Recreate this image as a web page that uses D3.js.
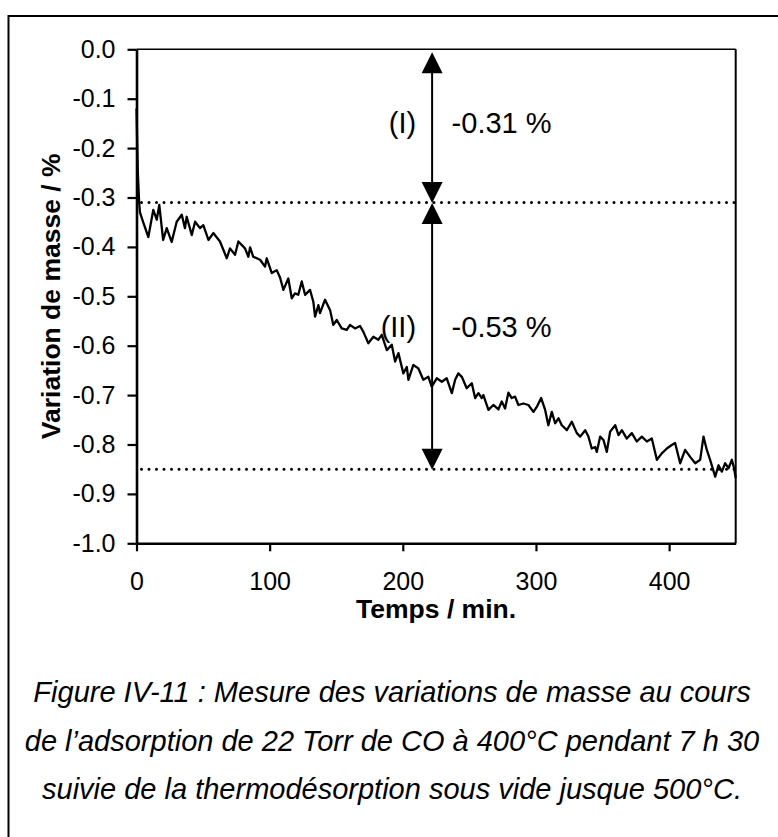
<!DOCTYPE html>
<html>
<head>
<meta charset="utf-8">
<script src="https://cdn.jsdelivr.net/npm/d3@7/dist/d3.min.js"></script>
<style>
  html, body { margin: 0; padding: 0; background: #fff; }
  svg { display: block; }
  text { font-family: "Liberation Sans", Arial, sans-serif; fill: #000; }
</style>
</head>
<body>
<svg id="chart" width="778" height="837"></svg>
<script>
// ---- data ----
const timeMin = [0,1,2,2.6,5,8.9,12.6,15.2,17.1,20,22.7,26.4,30.2,34,36.4,37.7,41.5,44,47.7,50.2,54,57.7,62.7,67.8,70.2,74,76.5,81.5,84,85.3,87.7,92.8,96.5,97.8,101.6,105.3,
  107.8,110.3,114,116.6,119,121.5,124.1,126.6,130.3,132.8,134.1,136.6,137.8,141.6,145.4,147.8,150.4,154.1,157.9,160.4,164.1,167.9,170.4,174.1,177.9,181.6,184.2,188,191.7,194.2,196.7,200.4,203,204.2,207.9,211.7,215.4,219.2,221.7,225.5,229.3,233,236.8,239.3,241.7,244.3,248,251.8,
  254.3,256.8,259.3,260.5,264.3,268,271.8,274.3,276.8,279.3,281.8,284.3,286.8,290.6,294.3,298.1,300.6,303.9,306.9,309.3,311.9,314.4,316.9,319.4,323.2,326.9,330.7,333.2,337,339.4,341.9,344.4,345.7,348.2,
  350.7,353.2,355.7,359.5,362,364.5,368.2,372,375.7,379.5,383.3,387,390.8,394.5,398.3,402,404.5,408.3,412,415.8,419.6,423.3,425.8,428.3,430.8,434.6,437.1,439.6,442.1,444.6,447.1,448.8,450];
const massVar = [-0.12,-0.25,-0.31,-0.33,-0.35,-0.38,-0.325,-0.345,-0.315,-0.386,-0.362,-0.39,-0.349,-0.335,-0.362,-0.339,-0.376,-0.349,-0.362,-0.356,-0.386,-0.372,-0.389,-0.423,-0.403,-0.416,-0.389,-0.403,-0.42,-0.401,-0.42,-0.426,-0.44,-0.423,-0.453,-0.447,
  -0.462,-0.487,-0.464,-0.504,-0.494,-0.497,-0.47,-0.497,-0.487,-0.511,-0.541,-0.518,-0.534,-0.507,-0.528,-0.558,-0.548,-0.565,-0.568,-0.558,-0.565,-0.56,-0.572,-0.595,-0.582,-0.588,-0.578,-0.609,-0.598,-0.632,-0.615,-0.656,-0.643,-0.669,-0.639,-0.646,-0.669,-0.663,-0.683,-0.666,-0.673,-0.666,-0.696,-0.669,-0.656,-0.663,-0.686,-0.676,
  -0.706,-0.696,-0.706,-0.7,-0.73,-0.72,-0.729,-0.713,-0.727,-0.695,-0.706,-0.703,-0.72,-0.717,-0.72,-0.734,-0.724,-0.706,-0.73,-0.761,-0.734,-0.757,-0.747,-0.761,-0.771,-0.754,-0.777,-0.784,-0.771,-0.784,-0.808,-0.805,-0.815,-0.784,
  -0.791,-0.815,-0.774,-0.761,-0.781,-0.771,-0.788,-0.777,-0.794,-0.784,-0.794,-0.788,-0.831,-0.818,-0.808,-0.801,-0.797,-0.838,-0.811,-0.825,-0.838,-0.831,-0.784,-0.811,-0.831,-0.865,-0.842,-0.855,-0.838,-0.848,-0.831,-0.848,-0.868];
const xTicks = [0,100,200,300,400];
const yTicks = [0,-0.1,-0.2,-0.3,-0.4,-0.5,-0.6,-0.7,-0.8,-0.9,-1.0];
const refLevels = [-0.31,-0.85];
const arrowTime = 222;
const arrowLevels = [0,-0.31,-0.85];
const stepLabels = ["(I)","(II)"];
const stepValues = ["-0.31 %","-0.53 %"];
const stepLabelLevels = [-0.17,-0.583];
const xTitle = "Temps / min.";
const yTitle = "Variation de masse / %";
const captionLines = [
  "Figure IV-11 : Mesure des variations de masse au cours",
  "de l’adsorption de 22 Torr de CO à 400°C pendant 7 h 30",
  "suivie de la thermodésorption sous vide jusque 500°C."
];

// ---- layout ----
const svg = d3.select("#chart");
const W = 778, H = 837;
const x = d3.scaleLinear().domain([0,450]).range([136.5,735.7]);
const y = d3.scaleLinear().domain([0,-1]).range([49.3,543.3]);

// outer frame (only top & left visible)
svg.append("rect").attr("x",8.5).attr("y",16).attr("width",W+20).attr("height",H+20)
  .attr("fill","none").attr("stroke","#000").attr("stroke-width",2);

// plot frame top & right
svg.append("line").attr("x1",x(0)).attr("x2",x(450)).attr("y1",y(0)).attr("y2",y(0))
  .attr("stroke","#000").attr("stroke-width",1.5);
svg.append("line").attr("x1",x(450)).attr("x2",x(450)).attr("y1",y(0)).attr("y2",y(-1))
  .attr("stroke","#000").attr("stroke-width",2);

// axes
const yAxis = d3.axisLeft(y).tickValues(yTicks).tickSize(9).tickSizeOuter(0).tickPadding(12)
  .tickFormat(d => d.toFixed(1));
const gy = svg.append("g").attr("transform",`translate(${x(0)},0)`).call(yAxis);
const xAxis = d3.axisBottom(x).tickValues(xTicks).tickSize(8).tickSizeOuter(0).tickPadding(20.5)
  .tickFormat(d3.format("d"));
const gx = svg.append("g").attr("transform",`translate(0,${y(-1)})`).call(xAxis);
[gx,gy].forEach(g => {
  g.select(".domain").attr("stroke","#000").attr("stroke-width",2.6);
  g.selectAll(".tick line").attr("stroke","#000").attr("stroke-width",2.2);
  g.selectAll(".tick text").attr("font-size",25).attr("fill","#000")
    .style("font-family","'Liberation Sans', Arial, sans-serif");
});

// dotted reference lines
svg.selectAll("line.ref").data(refLevels).enter().append("line").attr("class","ref")
  .attr("x1",x(0)+5).attr("x2",x(450)).attr("y1",d=>y(d)).attr("y2",d=>y(d))
  .attr("stroke","#000").attr("stroke-width",3).attr("stroke-linecap","round")
  .attr("stroke-dasharray","0 7.5");

// data curve
const line = d3.line().x((d,i)=>x(timeMin[i])).y(d=>y(d));
svg.append("path").datum(massVar).attr("d",line).attr("fill","none")
  .attr("stroke","#000").attr("stroke-width",2.3).attr("stroke-linejoin","round");

// double arrows
const ax = x(arrowTime);
const headL = 21, headW = 10.5;
for (let k = 0; k < 2; k++) {
  const yTop = y(arrowLevels[k]) + (k===0 ? 3 : 0.5);
  const yBot = y(arrowLevels[k+1]) + 0.5;
  svg.append("line").attr("x1",ax).attr("x2",ax).attr("y1",yTop+headL-2).attr("y2",yBot-headL+2)
    .attr("stroke","#000").attr("stroke-width",2);
  svg.append("path").attr("d",`M${ax},${yTop} L${ax-headW},${yTop+headL} L${ax+headW},${yTop+headL} Z`).attr("fill","#000");
  svg.append("path").attr("d",`M${ax},${yBot} L${ax-headW},${yBot-headL} L${ax+headW},${yBot-headL} Z`).attr("fill","#000");
  svg.append("text").attr("x",ax-16).attr("y",y(stepLabelLevels[k])).attr("text-anchor","end")
    .attr("font-size",29).text(stepLabels[k]);
  svg.append("text").attr("x",ax+19.5).attr("y",y(stepLabelLevels[k])).attr("text-anchor","start")
    .attr("font-size",29).text(stepValues[k]);
}

// axis titles
svg.append("text").attr("x",(x(0)+x(450))/2).attr("y",618).attr("text-anchor","middle")
  .attr("font-size",26.5).attr("font-weight","bold").text(xTitle);
svg.append("text").attr("transform",`translate(60,${(y(0)+y(-1))/2}) rotate(-90)`)
  .attr("text-anchor","middle").attr("font-size",26.5).attr("font-weight","bold").text(yTitle);

// caption
svg.selectAll("text.cap").data(captionLines).enter().append("text").attr("class","cap")
  .attr("x",392).attr("y",(d,i)=>702+i*48.5).attr("text-anchor","middle")
  .attr("font-size",29).attr("font-style","italic").text(d=>d);
</script>
</body>
</html>
